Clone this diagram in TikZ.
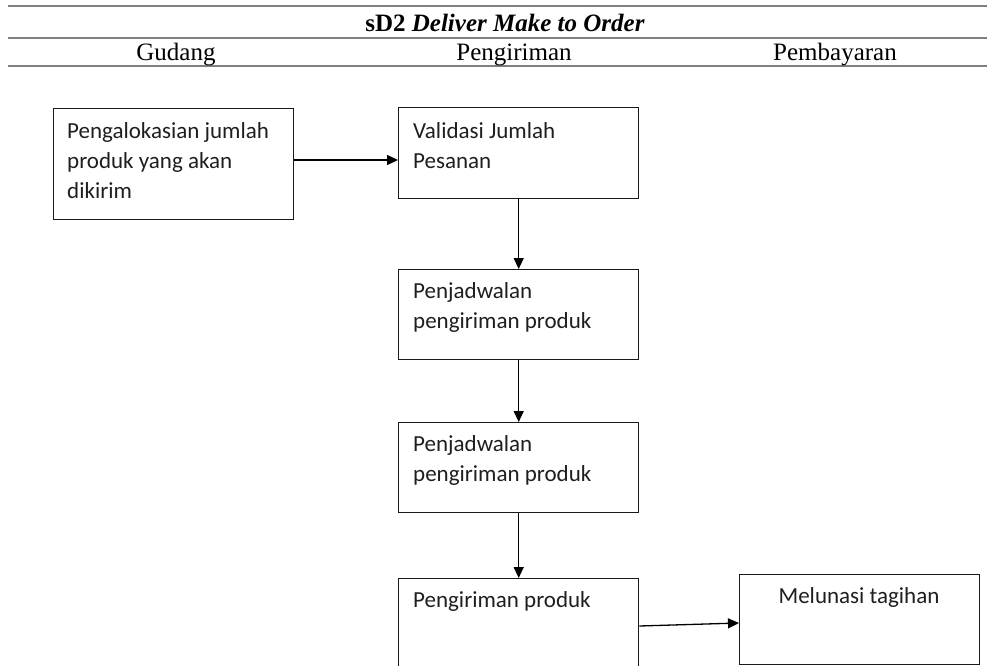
\documentclass[tikz,border=0pt]{standalone}
\usepackage{fontspec}
\setmainfont{Liberation Serif}
\newfontfamily\boxfont{Carlito}
\usetikzlibrary{arrows.meta,calc}
\begin{document}
\begin{tikzpicture}[x=1pt,y=-1pt,
  rulel/.style={draw=black!50, line width=1.6pt},
  boxn/.style={draw=black!90, line width=1.4pt, minimum width=240pt, anchor=north west, inner sep=0pt},
  txt/.style={font=\boxfont\fontsize{23}{30}\selectfont, align=left, anchor=north west, inner sep=0pt, text=black!88},
  hdr/.style={font=\fontsize{25}{30}\selectfont, anchor=base, inner sep=0pt},
  arr/.style={draw=black, line width=1.3pt, -{Triangle[length=11pt,width=10pt]}}]
\useasboundingbox (0,0) rectangle (987,666);
\clip (0,0) rectangle (987,666);
\fill[white] (0,0) rectangle (987,666);
% header rules
\draw[rulel] (8,6) -- (987,6);
\draw[rulel] (8,38) -- (987,38);
\draw[rulel] (8,66) -- (987,66);
% header texts
\node[hdr] (title) at (505,32) {\textbf{sD2 \textit{Deliver Make to Order}}};
\node[hdr] (h1) at (176,61) {Gudang};
\node[hdr] (h2) at (514,61) {Pengiriman};
\node[hdr] (h3) at (835,61) {Pembayaran};
% boxes
\node[boxn, minimum height=111pt] (b1) at (53,108) {};
\node[boxn, minimum height=91pt] (b2) at (398,107) {};
\node[boxn, minimum height=90pt] (b3) at (398,269) {};
\node[boxn, minimum height=90pt] (b4) at (398,422) {};
\node[boxn, minimum height=120pt] (b5) at (398,578) {};
\node[boxn, minimum height=90pt] (b6) at (739,574) {};
% texts
\node[txt] (t1) at (67,117) {\strut Pengalokasian jumlah\\produk yang akan\\dikirim};
\node[txt] (t2) at (413,117) {\strut Validasi Jumlah\\Pesanan};
\node[txt] (t3) at (413,277) {\strut Penjadwalan\\pengiriman produk};
\node[txt] (t4) at (413,430) {\strut Penjadwalan\\pengiriman produk};
\node[txt] (t5) at (413,586) {\strut Pengiriman produk};
\node[txt, anchor=north] (t6) at (859,582) {\strut Melunasi tagihan};
% connectors
\coordinate (ya) at (0,160);
\coordinate (yb) at (0,626);
\coordinate (yc) at (0,623);
\draw[arr] (b1.east |- ya) -- (b2.west |- ya);
\draw[arr] (b2.south) -- (b3.north);
\draw[arr] (b3.south) -- (b4.north);
\draw[arr] (b4.south) -- (b5.north);
\draw[arr] (b5.east |- yb) -- (b6.west |- yc);
\end{tikzpicture}
\end{document}
